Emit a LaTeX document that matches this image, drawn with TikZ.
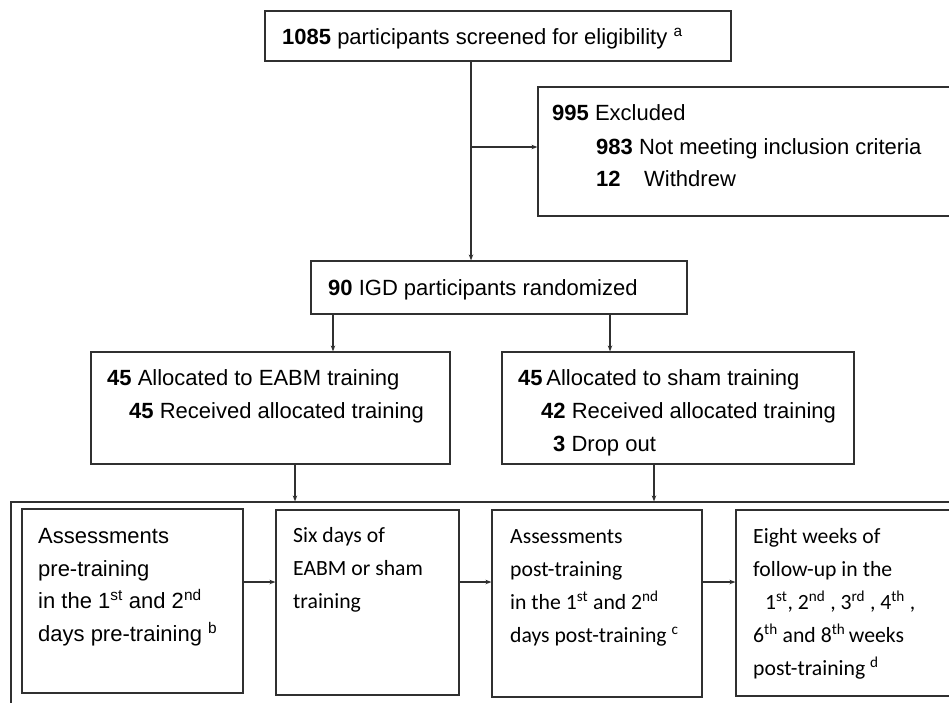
\documentclass[tikz,border=0pt]{standalone}
\usepackage{fontspec}
\setmainfont{Liberation Sans}
\newfontfamily\carl{Carlito}
\usetikzlibrary{arrows.meta}
\definecolor{ln}{HTML}{303030}
\begin{document}
\begin{tikzpicture}[x=1pt,y=-1pt,
  box/.style={draw=ln, line width=1.2pt, rectangle, inner sep=0pt},
  arr/.style={draw=ln, line width=1.1pt, -{Stealth[length=6pt,width=4.5pt]}},
  txt/.style={anchor=base west, inner sep=0pt, font=\fontsize{22}{26}\selectfont},
  ctxt/.style={anchor=base west, inner sep=0pt, font=\carl\fontsize{21.7}{26}\selectfont}]
\useasboundingbox (0,0) rectangle (949,702);
\clip (0,0) rectangle (949,702);
\fill[white] (0,0) rectangle (949,702);

% boxes
\node[box, minimum width=466pt, minimum height=50pt] (top) at (498,36) {};
\node[box, minimum width=422pt, minimum height=129pt] (excl) at (749,151.5) {};
\node[box, minimum width=376pt, minimum height=53pt] (rand) at (499,287.5) {};
\node[box, minimum width=359pt, minimum height=112pt] (allocL) at (270.5,408) {};
\node[box, minimum width=352pt, minimum height=112pt] (allocR) at (678,408) {};
\node[box, minimum width=949pt, minimum height=210pt] (outer) at (485.5,607) {};
\node[box, minimum width=221pt, minimum height=184pt] (b1) at (132.5,601) {};
\node[box, minimum width=183pt, minimum height=185pt] (b2) at (367.5,602.5) {};
\node[box, minimum width=210pt, minimum height=187pt] (b3) at (597,603.5) {};
\node[box, minimum width=229pt, minimum height=186pt] (b4) at (850.5,603) {};

% texts
\node[txt] (t1) at (282,44) {\textbf{1085} participants screened for eligibility \textsuperscript{a}};
\node[txt] (e1) at (552,120) {\textbf{995} Excluded};
\node[txt] (e2) at (596,154) {\textbf{983} Not meeting inclusion criteria};
\node[txt] (e3) at (596,186) {\makebox[48pt][l]{\textbf{12}}Withdrew};
\node[txt] (r1) at (328,295) {\textbf{90} IGD participants randomized};
\node[txt] (l1) at (107,385) {\textbf{45} Allocated to EABM training};
\node[txt] (l2) at (129,418) {\textbf{45} Received allocated training};
\node[txt] (s1) at (518,385) {\textbf{45}\,Allocated to sham training};
\node[txt] (s2) at (541,418) {\textbf{42} Received allocated training};
\node[txt] (s3) at (553,451) {\textbf{3} Drop out};

\node[txt] (p1) at (38,543) {Assessments};
\node[txt] (p2) at (38,576) {pre-training};
\node[txt] (p3) at (38,608) {in the 1\textsuperscript{st} and 2\textsuperscript{nd}};
\node[txt] (p4) at (38,641) {days pre-training \textsuperscript{b}};

\node[ctxt] (q1) at (293,542) {Six days of};
\node[ctxt] (q2) at (293,575) {EABM or sham};
\node[ctxt] (q3) at (293,608) {training};

\node[ctxt] (u1) at (510,543) {Assessments};
\node[ctxt] (u2) at (510,576) {post-training};
\node[ctxt] (u3) at (510,609) {in the 1\textsuperscript{st} and 2\textsuperscript{nd}};
\node[ctxt] (u4) at (510,642) {days post-training \textsuperscript{c}};

\node[ctxt] (w1) at (753,543) {Eight weeks of};
\node[ctxt] (w2) at (753,576) {follow-up in the};
\node[ctxt] (w3) at (765,609) {1\textsuperscript{st}, 2\textsuperscript{nd} , 3\textsuperscript{rd} , 4\textsuperscript{th} ,};
\node[ctxt] (w4) at (753,642) {6\textsuperscript{th} and 8\textsuperscript{th}\,weeks};
\node[ctxt] (w5) at (753,675) {post-training \textsuperscript{d}};

% connectors
\coordinate (xa) at (471,0);
\coordinate (br) at (471,147);
\coordinate (xl) at (333,0);
\coordinate (xr) at (610,0);
\coordinate (yl) at (295,0);
\coordinate (yr) at (654,0);
\coordinate (ym) at (0,582);
\draw[arr] (top.south -| xa) -- (rand.north -| xa);
\draw[arr] (br) -- (br -| excl.west);
\draw[arr] (rand.south -| xl) -- (allocL.north -| xl);
\draw[arr] (rand.south -| xr) -- (allocR.north -| xr);
\draw[arr] (allocL.south -| yl) -- (outer.north -| yl);
\draw[arr] (allocR.south -| yr) -- (outer.north -| yr);
\draw[arr] (b1.east |- ym) -- (b2.west |- ym);
\draw[arr] (b2.east |- ym) -- (b3.west |- ym);
\draw[arr] (b3.east |- ym) -- (b4.west |- ym);
\end{tikzpicture}
\end{document}
